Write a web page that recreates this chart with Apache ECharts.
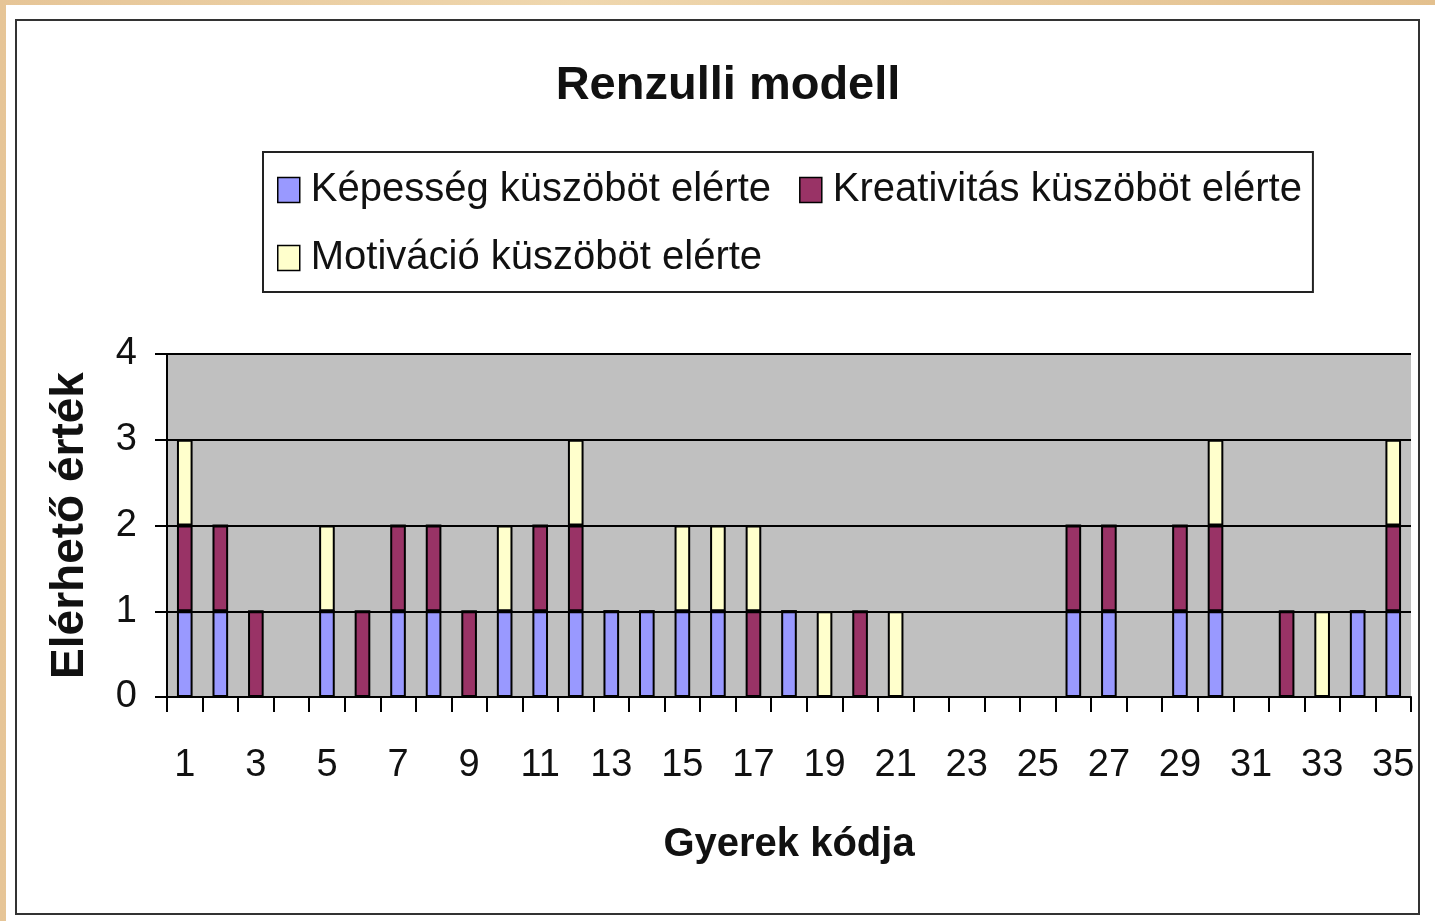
<!DOCTYPE html>
<html>
<head>
<meta charset="utf-8">
<title>Renzulli modell</title>
<script src="https://cdn.jsdelivr.net/npm/echarts@6/dist/echarts.min.js"></script>
<style>
  html, body { margin: 0; padding: 0; }
  body {
    width: 1435px; height: 921px; overflow: hidden; position: relative;
    background: linear-gradient(90deg, #e6c597, #efd7ae 40%, #e3c08e);
  }
  #paper { position: absolute; left: 6px; top: 5px; right: 0; bottom: 0; background: #fff; }
  #frame { position: absolute; left: 15px; top: 19px; width: 1401px; height: 892px; border: 2px solid #333; }
  #chart { position: absolute; left: 0; top: 0; width: 1435px; height: 921px; }
</style>
</head>
<body>
<div id="paper"></div>
<div id="frame"></div>
<div id="chart"></div>
<script>
// gyerek kódok 1..35
var kodok = []
for (var i = 1; i <= 35; i++) kodok.push(String(i))

// 1 = küszöböt elérte, 0 = nem
var kepesseg   = [1,1,0,0,1,0,1,1,0,1, 1,1,1,1,1,1,0,1,0,0, 0,0,0,0,0,1,1,0,1,1, 0,0,0,1,1]
var kreativitas = [1,1,1,0,0,1,1,1,1,0, 1,1,0,0,0,0,1,0,0,1, 0,0,0,0,0,1,1,0,1,1, 0,1,0,0,1]
var motivacio  = [1,0,0,0,1,0,0,0,0,1, 0,1,0,0,1,1,1,0,1,0, 1,0,0,0,0,0,0,0,0,1, 0,0,1,0,1]

var yTicks = [0, 1, 2, 3, 4]

var nevek = ['Képesség küszöböt elérte', 'Kreativitás küszöböt elérte', 'Motiváció küszöböt elérte']
var szinek = ['#9999FF', '#993366', '#FFFFCC']

var font = "'Liberation Sans', Arial, sans-serif"
var chart = echarts.init(document.getElementById('chart'))

function sor(nev, adat, szin) {
    return {
        name: nev,
        type: 'bar',
        stack: 'osszes',
        data: adat,
        barWidth: '44%',
        itemStyle: { color: szin, borderColor: '#000', borderWidth: 2 }
    }
}

var option = {
    backgroundColor: 'transparent',
    animation: false,
    title: {
        text: 'Renzulli modell',
        left: 723,
        textAlign: 'center',
        top: 58,
        textStyle: { fontFamily: font, fontSize: 47, fontWeight: 'bold', color: '#111' }
    },
    legend: {
        left: 263,
        top: 152,
        width: 1030,
        padding: [18, 11, 14, 14],
        itemGap: 28,
        itemWidth: 22,
        itemHeight: 25,
        icon: 'rect',
        borderColor: '#222',
        borderWidth: 2,
        backgroundColor: '#fff',
        itemStyle: { borderColor: '#000', borderWidth: 1.5 },
        textStyle: { fontFamily: font, fontSize: 40, lineHeight: 38, color: '#111', padding: [0, 0, 0, 6] },
        data: nevek
    },
    grid: {
        left: 167,
        right: 24,
        top: 354,
        bottom: 224,
        show: true,
        backgroundColor: '#C0C0C0',
        borderWidth: 0
    },
    xAxis: {
        type: 'category',
        data: kodok,
        name: 'Gyerek kódja',
        nameLocation: 'middle',
        nameGap: 128,
        nameTextStyle: { fontFamily: font, fontSize: 40, fontWeight: 'bold', color: '#111' },
        axisLine: { lineStyle: { color: '#000', width: 2 } },
        axisTick: { show: true, interval: 0, length: 15, lineStyle: { color: '#000', width: 2 } },
        axisLabel: { interval: 1, margin: 50, fontFamily: font, fontSize: 38, color: '#111' }
    },
    yAxis: {
        type: 'value',
        min: yTicks[0],
        max: yTicks[yTicks.length - 1],
        interval: 1,
        name: 'Elérhető érték',
        nameLocation: 'middle',
        nameGap: 74,
        nameTextStyle: { fontFamily: font, fontSize: 46, fontWeight: 'bold', color: '#111' },
        axisLine: { show: true, lineStyle: { color: '#000', width: 2 } },
        axisTick: { show: true, length: 12, lineStyle: { color: '#000', width: 2 } },
        axisLabel: { margin: 30, fontFamily: font, fontSize: 38, color: '#111' },
        splitLine: { show: true, lineStyle: { color: '#000', width: 2 } }
    },
    series: [
        sor(nevek[0], kepesseg, szinek[0]),
        sor(nevek[1], kreativitas, szinek[1]),
        sor(nevek[2], motivacio, szinek[2])
    ]
}

chart.setOption(option)
</script>
</body>
</html>
